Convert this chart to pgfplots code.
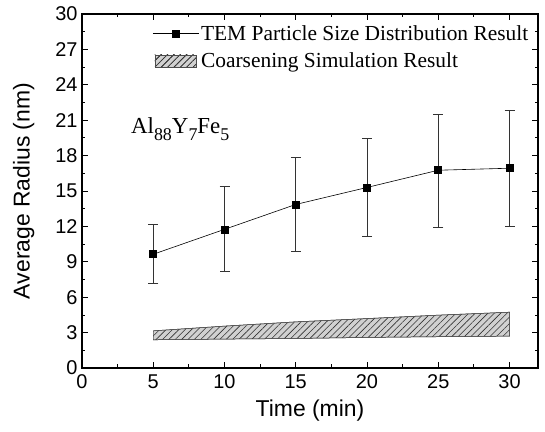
\documentclass[border=0pt]{standalone}
\usepackage{fontspec}
\setmainfont{Liberation Serif}
\setsansfont{Liberation Sans}
\usepackage{pgfplots}
\pgfplotsset{compat=1.18}
\usetikzlibrary{patterns.meta}
\tikzset{hatchfill/.style={postaction={pattern={Lines[angle=45, distance=4.5bp, line width=0.6pt]}, pattern color=black!80}}}
\begin{document}
\begin{tikzpicture}
\begin{axis}[
  scale only axis,
  width=456bp, height=354bp,
  xmin=0, xmax=32, ymin=0, ymax=30,
  xtick={0,5,...,30}, ytick={0,3,...,30},
  minor x tick num=1, minor y tick num=1,
  tick align=inside, tick pos=both,
  major tick length=6bp, minor tick length=3.5bp,
  axis line style={line width=1.1pt},
  every tick/.style={line width=0.8pt, black},
  /pgf/number format/assume math mode=true,
  tick label style={font=\sffamily\fontsize{20}{20}\selectfont},
  xticklabel style={yshift=-3bp},
  yticklabel style={xshift=-1bp},
  label style={font=\sffamily\fontsize{23}{23}\selectfont},
  xlabel={Time (min)}, ylabel={Average Radius (nm)},
  xlabel style={yshift=-4bp},
  ylabel style={yshift=14bp},
  legend style={draw=none, fill=none, at={(rel axis cs:0.99,0.98)}, anchor=north east,
    font=\rmfamily\fontsize{21.5}{22}\selectfont, row sep=7bp, cells={anchor=west}},
  legend cell align=left,
]
\addplot[black, line width=0.6pt, mark=square*, mark size=3.5bp,
  error bars/.cd, y dir=both, y explicit,
  error bar style={line width=0.6pt, black!80},
  error mark options={rotate=90, mark size=5bp, line width=0.6pt, black!80},
  /pgfplots/legend image code/.code={\draw[black, line width=0.6pt, mark=square*, mark size=3.5bp, mark repeat=2, mark phase=2] plot coordinates {(-6bp,0bp) (17bp,0bp) (40bp,0bp)};}]
  coordinates {
  (5,9.64) -= (0,2.49) += (0,2.53)
  (10,11.75) -= (0,3.58) += (0,3.63)
  (15,13.86) -= (0,4.00) += (0,3.98)
  (20,15.30) -= (0,4.14) += (0,4.19)
  (25,16.76) -= (0,4.82) += (0,4.74)
  (30,16.93) -= (0,4.93) += (0,4.87)
  };
\addlegendentry{TEM Particle Size Distribution Result}
\addplot[draw=black!70, line width=0.5pt, fill=black!18, hatchfill,
  legend image code/.code={\draw[draw=black!70, line width=0.5pt, fill=black!18, hatchfill] (-4bp,-6bp) rectangle (37bp,6bp);}]
  coordinates {
  (5,3.15) (10,3.55) (15,3.91) (20,4.19) (25,4.48) (30,4.73)
  (30,2.70) (25,2.65) (20,2.59) (15,2.50) (10,2.45) (5,2.39)
  } -- cycle;
\addlegendentry{Coarsening Simulation Result}
\node[anchor=base west, font=\rmfamily\fontsize{23}{23}\selectfont] at (axis cs:3.2,19.9)
  {Al\raisebox{-0.3em}{\fontsize{18}{18}\selectfont 88}Y\raisebox{-0.3em}{\fontsize{18}{18}\selectfont 7}Fe\raisebox{-0.3em}{\fontsize{18}{18}\selectfont 5}};
\end{axis}
\pgfresetboundingbox
\path (current axis.south west) ++(-82bp,-64bp) coordinate (bl);
\path (current axis.north east) ++(7bp,14bp) coordinate (tr);
\path[use as bounding box] (bl) rectangle (tr);
\end{tikzpicture}
\end{document}
